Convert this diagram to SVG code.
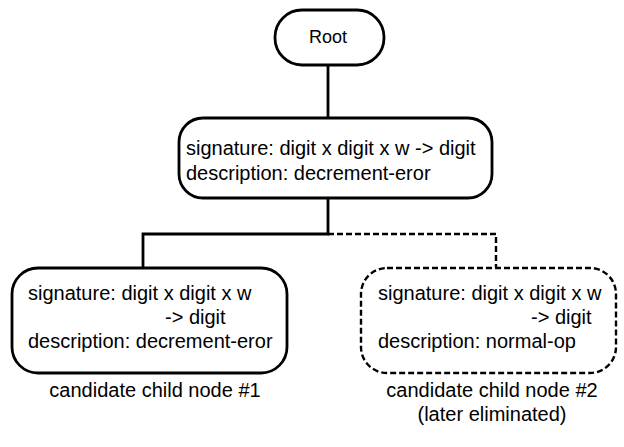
<svg xmlns="http://www.w3.org/2000/svg" width="624" height="447" viewBox="0 0 624 447">
<style>
.box{fill:#fff;stroke:#000;stroke-width:2.8}
.dash{fill:#fff;stroke:#000;stroke-width:2.4;stroke-dasharray:6 3}
.ln{fill:none;stroke:#000;stroke-width:2.8}
.dl{fill:none;stroke:#000;stroke-width:2.4;stroke-dasharray:6 3}
text{font-family:"Liberation Sans",Arial,sans-serif;font-size:20px;fill:#000}
.c{text-anchor:middle}
</style>
<rect width="624" height="447" fill="#fff"/>
<g id="connectors">
<line class="ln" x1="328" y1="65" x2="328" y2="118"/>
<polyline class="ln" points="328,198 328,234 143,234 143,268"/>
<polyline class="dl" points="328,234 496,234 496,268"/>
</g>
<g id="root">
<rect class="box" x="275" y="10" width="109" height="55" rx="27"/>
<text class="c" x="328" y="43" style="font-size:18px">Root</text>
</g>
<g id="middle">
<rect class="box" x="179" y="118" width="313" height="80" rx="24"/>
<text x="186" y="155">signature: digit x digit x w -&gt; digit</text>
<text x="186" y="180">description: decrement-eror</text>
</g>
<g id="child1">
<rect class="box" x="12" y="268" width="275" height="105" rx="26"/>
<text x="28" y="300">signature: digit x digit x w</text>
<text x="165" y="324">-&gt; digit</text>
<text x="28" y="348">description: decrement-eror</text>
</g>
<g id="child2">
<rect class="dash" x="361" y="268" width="255" height="105" rx="26"/>
<text x="378" y="300">signature: digit x digit x w</text>
<text x="531" y="324">-&gt; digit</text>
<text x="378" y="348">description: normal-op</text>
</g>
<g id="labels">
<text class="c" x="155" y="397">candidate child node #1</text>
<text class="c" x="492" y="397">candidate child node #2</text>
<text class="c" x="492" y="421">(later eliminated)</text>
</g>
</svg>
